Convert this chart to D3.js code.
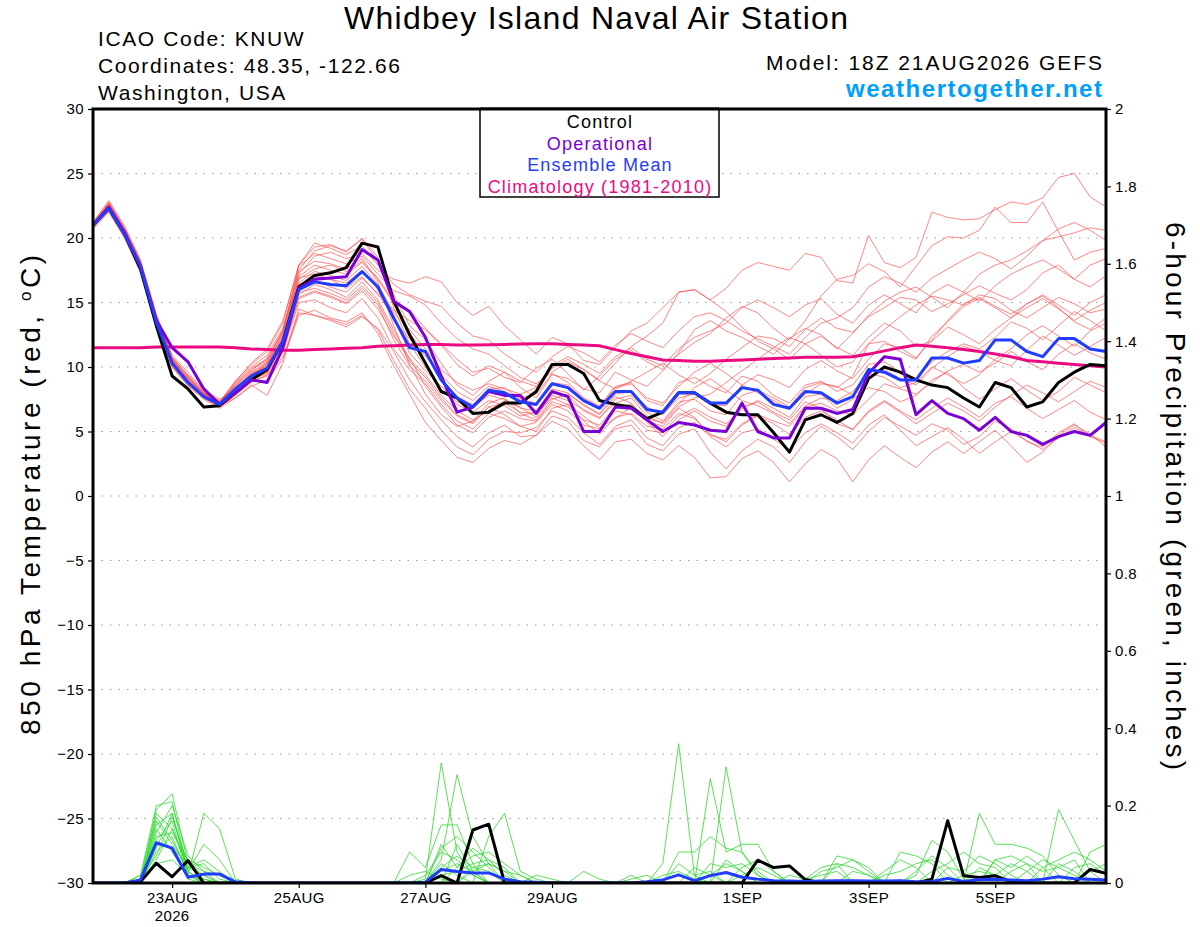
<!DOCTYPE html>
<html>
<head>
<meta charset="utf-8">
<script src="https://cdn.jsdelivr.net/npm/d3@7"></script>
<style>
  body { margin: 0; background: #fff; }
  text { font-family: "Liberation Sans", Arial, Helvetica, sans-serif; }
</style>
</head>
<body>
<script>
// 6-hourly GEFS forecast, 18Z 21AUG2026 run, 65 steps
const runStart = new Date(Date.UTC(2026, 7, 21, 18));
const runEnd = new Date(Date.UTC(2026, 8, 6, 18));
const times = d3.utcHour.every(6).range(runStart, d3.utcHour.offset(runEnd, 1));

const tickDates = [
  new Date(Date.UTC(2026, 7, 23)), new Date(Date.UTC(2026, 7, 25)),
  new Date(Date.UTC(2026, 7, 27)), new Date(Date.UTC(2026, 7, 29)),
  new Date(Date.UTC(2026, 8, 1)), new Date(Date.UTC(2026, 8, 3)),
  new Date(Date.UTC(2026, 8, 5))
];
const tickLabels = ["23AUG", "25AUG", "27AUG", "29AUG", "1SEP", "3SEP", "5SEP"];

// 850 hPa temperature (C)
const control = [
  21.0, 22.3, 20.3, 17.6, 13.2, 9.3, 8.3, 6.9, 7.0, 8.0, 9.0, 9.8, 12.0,
  16.2, 17.1, 17.3, 17.7, 19.6, 19.3, 15.1, 12.5, 10.3, 8.1, 7.6,
  6.4, 6.5, 7.2, 7.2, 8.1, 10.2, 10.2, 9.5, 7.4, 7.1, 6.9, 6.0, 6.5, 8.0, 8.0, 7.2, 6.5, 6.3, 6.3,
  4.9, 3.4, 5.9, 6.3, 5.7, 6.4, 9.1, 10.0, 9.6, 9.0, 8.6, 8.4, 7.6, 6.9, 8.8, 8.4, 6.9, 7.3, 8.8, 9.6, 10.2, 10.1
];
const operational = [
  21.0, 22.4, 20.4, 17.8, 13.6, 11.5, 10.4, 8.3, 7.1, 8.0, 9.0, 8.8, 11.5,
  16.1, 16.8, 16.9, 17.0, 19.1, 18.3, 15.1, 14.3, 12.3, 9.3, 6.5,
  6.9, 8.1, 7.8, 7.8, 6.4, 8.1, 7.7, 5.0, 5.0, 6.9, 6.8, 5.9, 5.0, 5.7, 5.5, 5.1, 5.0, 7.2, 5.0,
  4.5, 4.5, 6.8, 6.8, 6.4, 6.7, 9.5, 10.8, 10.6, 6.3, 7.4, 6.4, 6.0, 5.1, 6.1, 5.0, 4.7, 4.0, 4.6, 5.0, 4.7, 5.7
];
const ensembleMean = [
  21.0, 22.3, 20.3, 17.8, 13.5, 10.3, 8.8, 7.7, 7.1, 8.3, 9.3, 9.9, 12.0,
  16.0, 16.6, 16.4, 16.3, 17.4, 16.2, 13.8, 11.5, 11.2, 9.0, 7.6,
  6.9, 8.2, 8.0, 7.3, 7.1, 8.7, 8.4, 7.4, 6.8, 8.1, 8.1, 6.7, 6.5, 8.0, 8.0, 7.2, 7.2, 8.4, 8.2,
  7.1, 6.8, 8.1, 8.0, 7.2, 7.7, 9.8, 9.6, 9.0, 9.0, 10.7, 10.7, 10.3, 10.5, 12.1, 12.1, 11.2, 10.8, 12.2, 12.2, 11.4, 11.2
];
const climatology = [
  11.5, 11.5, 11.5, 11.5, 11.55, 11.55, 11.55, 11.55, 11.55, 11.5, 11.4, 11.35, 11.3,
  11.3, 11.35, 11.4, 11.45, 11.5, 11.6, 11.65, 11.7, 11.75, 11.75, 11.7,
  11.7, 11.72, 11.75, 11.78, 11.8, 11.8, 11.75, 11.7, 11.65, 11.35, 11.05, 10.8, 10.55, 10.5, 10.45, 10.45, 10.5, 10.55, 10.6,
  10.65, 10.7, 10.75, 10.75, 10.75, 10.8, 11.0, 11.25, 11.5, 11.7, 11.6, 11.5, 11.35, 11.2, 11.0, 10.8, 10.5, 10.4, 10.3, 10.2, 10.1, 10.0
];

const tempMembers = [
  [21.2, 22.8, 20.8, 18.2, 14.0, 10.8, 9.3, 7.9, 7.2, 8.6, 9.8, 10.5, 12.8,
   17.2, 18.6, 18.9, 18.4, 18.8, 17.5, 16.8, 16.5, 17.0, 16.6, 15.0,
   14.0, 14.7, 13.2, 12.1, 11.0, 12.3, 11.8, 10.5, 10.2, 11.5, 12.8, 13.4, 14.6, 15.8, 16.0, 15.2, 16.1, 17.5, 18.1,
   17.8, 17.5, 18.8, 18.5, 16.7, 16.5, 20.2, 18.1, 17.7, 18.5, 22.0, 21.6, 21.4, 21.5, 22.2, 22.8, 22.6, 23.1, 24.7, 25.0, 23.2, 22.4],
  [20.9, 22.5, 20.6, 18.0, 13.8, 10.6, 9.0, 7.6, 7.0, 8.2, 9.4, 10.2, 12.4,
   16.8, 17.6, 17.9, 17.4, 18.2, 16.9, 15.1, 14.4, 13.0, 11.8, 10.6,
   9.6, 9.9, 9.2, 8.8, 9.9, 10.6, 9.5, 8.2, 9.3, 10.6, 11.3, 10.4, 9.8, 11.0, 11.9, 12.6, 13.8, 14.7, 14.2,
   13.0, 12.1, 13.6, 15.5, 16.8, 17.1, 18.0, 17.4, 16.2, 17.8, 19.4, 20.1, 20.0, 20.6, 22.4, 21.2, 21.2, 22.8, 20.5, 18.3, 18.9, 19.2],
  [21.1, 22.6, 20.5, 17.7, 13.6, 10.5, 8.8, 7.8, 7.2, 8.8, 10.0, 10.9, 13.0,
   17.5, 19.0, 19.4, 19.0, 19.9, 18.2, 15.6, 13.2, 12.1, 10.3, 8.6,
   7.8, 8.9, 9.6, 8.4, 7.6, 9.4, 9.1, 8.3, 8.0, 9.6, 9.0, 8.5, 9.7, 11.1, 12.9, 13.6, 12.8, 12.3, 11.6,
   11.0, 12.2, 13.0, 12.5, 11.4, 12.6, 14.0, 15.1, 15.8, 16.2, 15.4, 14.6, 15.8, 17.2, 17.9, 18.3, 19.0, 19.8, 20.1, 20.4, 20.8, 20.6],
  [20.8, 22.2, 20.2, 17.6, 13.3, 10.2, 9.1, 8.0, 7.4, 8.5, 9.6, 10.4, 12.6,
   17.8, 18.8, 18.4, 18.0, 18.6, 17.2, 15.9, 15.5, 14.8, 13.4, 12.2,
   11.4, 11.0, 10.1, 9.2, 8.7, 9.6, 10.4, 9.8, 8.9, 8.3, 8.9, 9.6, 10.3, 9.4, 8.7, 9.5, 10.6, 11.5, 12.4,
   12.2, 11.6, 12.9, 13.8, 13.0, 12.7, 13.9, 14.6, 15.4, 15.2, 14.3, 14.9, 15.6, 16.3, 15.7, 15.2, 16.0, 17.3, 17.9, 16.8, 16.2, 17.1],
  [21.0, 22.4, 20.4, 17.9, 13.7, 10.4, 9.2, 7.9, 7.3, 8.0, 9.1, 9.7, 11.6,
   15.6, 16.4, 16.0, 15.4, 16.6, 15.2, 12.9, 10.6, 9.4, 7.8, 6.6,
   5.9, 6.6, 7.4, 6.9, 6.1, 7.8, 7.4, 6.7, 6.1, 7.2, 7.6, 6.2, 5.6, 6.9, 7.6, 7.9, 8.8, 9.7, 10.6,
   11.5, 12.3, 11.8, 10.9, 10.0, 10.4, 11.8, 12.9, 13.9, 14.8, 15.5, 15.2, 14.8, 15.6, 15.3, 14.4, 13.8, 14.6, 15.4, 14.9, 14.2, 14.5],
  [20.9, 22.1, 20.1, 17.5, 13.2, 10.1, 8.6, 7.6, 6.9, 7.8, 8.8, 9.4, 11.2,
   15.0, 15.2, 14.6, 14.2, 15.3, 13.8, 11.4, 9.8, 8.7, 7.1, 5.8,
   5.2, 6.4, 6.0, 5.4, 5.7, 7.1, 6.6, 5.5, 5.2, 6.6, 6.3, 5.1, 4.9, 6.2, 6.8, 6.1, 5.6, 6.7, 7.4,
   6.8, 6.1, 7.7, 7.9, 6.8, 7.5, 8.4, 8.1, 7.3, 7.8, 9.0, 9.6, 8.4, 7.5, 8.3, 9.1, 8.2, 7.4, 8.1, 9.2, 8.6, 8.0],
  [21.1, 22.7, 20.7, 18.1, 13.9, 10.7, 9.4, 8.2, 7.5, 8.1, 8.9, 9.3, 10.8,
   14.2, 14.0, 13.6, 13.1, 13.9, 13.0, 11.2, 9.0, 7.3, 5.9, 4.6,
   3.8, 4.9, 5.5, 4.6, 4.7, 6.2, 5.8, 4.3, 3.8, 5.2, 5.5, 4.0, 3.5, 4.8, 5.2, 3.4, 2.1, 3.5, 4.4,
   3.8, 2.6, 4.2, 5.4, 4.6, 3.6, 5.0, 6.1, 5.4, 4.7, 5.6, 5.1, 4.0, 4.6, 5.8, 5.2, 4.2, 3.8, 4.9, 5.6, 4.6, 4.1],
  [20.7, 22.0, 20.0, 17.4, 13.1, 10.0, 8.7, 7.7, 7.0, 7.6, 8.5, 9.0, 10.6,
   14.0, 14.4, 13.8, 13.5, 14.2, 12.6, 10.1, 7.9, 5.7, 4.3, 3.0,
   2.6, 3.7, 4.3, 4.0, 4.7, 5.8, 5.2, 3.9, 2.8, 4.2, 4.4, 3.3, 2.8, 3.9, 3.0, 1.4, 1.5, 2.9, 3.5,
   2.6, 1.1, 2.5, 3.6, 2.9, 1.1, 2.8, 3.9, 3.0, 2.2, 3.4, 4.2, 3.3, 4.2, 5.1, 3.9, 2.6, 3.4, 4.7, 5.5, 4.8, 3.8],
  [21.0, 22.5, 20.3, 17.8, 13.5, 10.4, 8.9, 7.7, 7.1, 8.4, 9.5, 10.0, 12.1,
   16.2, 17.0, 16.8, 16.5, 17.5, 16.0, 13.6, 12.2, 10.8, 9.4, 8.1,
   7.4, 8.5, 8.1, 7.6, 7.9, 9.5, 8.8, 7.6, 7.0, 8.5, 8.8, 7.4, 7.0, 8.8, 9.2, 8.5, 8.0, 9.3, 8.9,
   7.8, 7.2, 8.6, 8.9, 8.1, 8.6, 10.2, 10.4, 9.6, 9.1, 10.4, 11.2, 11.8, 11.4, 12.3, 13.5, 13.0, 12.1, 13.2, 14.3, 13.6, 12.8],
  [21.2, 22.9, 20.9, 18.3, 14.1, 10.9, 9.6, 8.1, 7.3, 8.9, 10.2, 11.2, 13.4,
   17.9, 19.3, 19.5, 18.9, 20.0, 18.5, 14.6, 11.8, 10.0, 8.2, 7.1,
   6.5, 7.4, 7.0, 6.2, 6.5, 8.0, 7.8, 6.6, 6.0, 7.5, 7.8, 6.5, 5.8, 7.3, 7.5, 6.6, 6.3, 7.8, 8.2,
   7.6, 6.9, 8.4, 8.8, 8.4, 9.3, 11.8, 12.0, 11.2, 10.6, 12.4, 13.5, 14.7, 15.3, 14.6, 13.8, 14.9, 15.6, 14.8, 14.0, 15.0, 15.6],
  [20.8, 22.3, 20.2, 17.6, 13.4, 10.3, 8.9, 7.8, 7.2, 8.0, 9.2, 9.6, 11.3,
   15.3, 15.8, 15.4, 14.9, 15.9, 14.5, 12.4, 10.7, 8.5, 6.9, 5.5,
   4.9, 6.1, 6.6, 6.0, 5.8, 7.3, 6.9, 5.9, 5.5, 6.9, 7.1, 5.8, 5.4, 6.8, 6.1, 4.7, 4.4, 5.6, 6.3,
   5.8, 5.4, 6.9, 7.2, 6.6, 6.3, 7.5, 8.7, 8.3, 7.9, 8.8, 9.7, 10.2, 9.6, 10.3, 11.2, 10.4, 9.8, 11.0, 11.8, 11.1, 10.6],
  [21.1, 22.4, 20.5, 18.0, 13.7, 10.6, 9.1, 7.9, 7.1, 8.7, 9.9, 10.6, 12.9,
   17.4, 18.2, 18.0, 17.6, 18.4, 16.6, 13.2, 10.2, 7.9, 6.3, 5.4,
   5.8, 7.2, 7.6, 6.4, 5.9, 7.5, 7.9, 7.1, 6.3, 7.7, 7.2, 6.0, 5.7, 7.1, 8.4, 9.1, 8.2, 7.4, 7.0,
   6.4, 5.6, 7.0, 7.6, 7.4, 8.1, 9.5, 9.2, 8.4, 8.8, 10.0, 9.4, 8.7, 9.4, 10.6, 11.4, 12.5, 13.2, 12.4, 11.6, 12.8, 13.4],
  [20.9, 22.6, 20.6, 17.9, 13.8, 10.5, 9.0, 7.8, 7.0, 8.3, 9.4, 10.1, 12.2,
   16.5, 17.4, 17.1, 16.7, 17.8, 16.4, 14.2, 12.9, 11.4, 9.8, 8.8,
   8.2, 8.7, 8.3, 7.9, 8.4, 9.9, 10.6, 9.8, 9.0, 10.3, 11.6, 12.4, 13.4, 15.8, 16.0, 15.2, 14.3, 13.1, 12.0,
   11.4, 10.6, 11.8, 12.4, 11.5, 10.9, 12.3, 13.4, 12.8, 11.6, 12.0, 13.1, 12.5, 11.8, 12.9, 13.8, 14.6, 15.3, 14.5, 13.6, 14.4, 15.0],
  [21.0, 22.2, 20.3, 17.7, 13.4, 10.2, 8.7, 7.6, 7.0, 7.9, 9.0, 9.5, 11.4,
   15.4, 15.9, 15.5, 15.0, 16.1, 14.8, 12.1, 10.1, 8.9, 7.4, 6.2,
   5.6, 6.9, 6.3, 5.4, 5.0, 6.8, 7.1, 6.2, 5.3, 6.0, 6.9, 5.7, 4.6, 5.9, 6.6, 5.8, 5.4, 6.9, 7.3,
   6.5, 5.9, 7.3, 6.8, 5.6, 5.2, 6.6, 7.4, 6.6, 5.9, 6.8, 7.6, 6.9, 6.1, 7.2, 7.7, 6.8, 6.0, 6.7, 7.4, 6.5, 5.9],
  [21.1, 22.5, 20.4, 17.8, 13.6, 10.5, 9.0, 7.9, 7.3, 8.4, 9.3, 10.3, 12.5,
   16.9, 17.2, 16.8, 16.1, 17.0, 15.6, 13.9, 11.1, 9.7, 8.5, 7.3,
   6.9, 7.8, 7.5, 6.8, 6.6, 8.3, 8.0, 7.0, 6.4, 7.9, 8.1, 6.9, 6.3, 7.6, 7.9, 7.1, 7.0, 8.6, 9.4,
   9.0, 8.4, 9.8, 10.5, 9.7, 9.1, 10.6, 11.8, 11.5, 10.7, 12.1, 13.6, 14.9, 15.4, 14.7, 14.1, 14.9, 15.5, 14.6, 13.5, 12.9, 13.8],
  [20.8, 22.1, 20.0, 17.3, 13.1, 10.0, 8.5, 7.5, 6.8, 7.6, 8.6, 7.8, 10.3,
   14.5, 14.0, 13.7, 13.3, 14.0, 12.9, 10.5, 8.3, 6.8, 5.1, 3.8,
   3.2, 4.4, 5.0, 4.9, 5.3, 6.6, 6.1, 4.9, 4.0, 5.4, 5.9, 4.5, 3.9, 5.3, 5.7, 4.6, 3.8, 4.9, 5.2,
   4.4, 3.6, 4.9, 5.6, 4.9, 4.1, 5.5, 6.3, 5.1, 3.9, 4.6, 5.3, 4.4, 3.3, 4.2, 5.0, 4.3, 3.6, 4.5, 5.3, 4.7, 4.2],
  [21.0, 22.4, 20.5, 17.8, 13.6, 10.3, 8.9, 7.8, 7.2, 8.2, 9.5, 10.3, 12.2,
   16.4, 16.8, 16.2, 15.8, 16.9, 15.7, 14.4, 13.6, 12.9, 11.7, 10.2,
   9.3, 10.1, 9.6, 8.9, 8.5, 10.1, 10.8, 10.2, 9.5, 10.8, 11.5, 10.6, 10.1, 11.4, 12.3, 12.8, 13.4, 14.6, 15.2,
   14.6, 13.9, 14.8, 15.3, 14.1, 13.4, 14.8, 15.6, 14.9, 14.2, 15.7, 16.4, 15.8, 15.1, 16.3, 17.2, 17.8, 18.3, 17.6, 16.8, 17.9, 18.4],
  [21.0, 22.3, 20.2, 17.6, 13.3, 10.2, 8.8, 7.7, 7.1, 8.1, 9.0, 9.6, 11.7,
   15.8, 16.1, 15.7, 15.2, 16.3, 15.0, 12.6, 10.4, 9.2, 7.6, 6.3,
   5.7, 6.9, 7.2, 6.5, 6.4, 7.6, 7.1, 5.8, 4.8, 6.1, 6.4, 5.4, 5.2, 6.4, 6.0, 4.8, 4.2, 5.5, 6.2,
   5.6, 4.8, 6.1, 6.6, 5.9, 5.1, 6.5, 7.3, 6.5, 5.6, 6.4, 7.2, 6.6, 5.8, 6.9, 7.8, 8.6, 8.0, 7.3, 8.1, 8.9, 8.4],
  [21.1, 22.6, 20.6, 18.0, 13.8, 10.6, 9.2, 8.0, 7.2, 8.6, 9.7, 10.7, 12.7,
   17.0, 17.9, 17.5, 17.2, 18.1, 16.8, 14.9, 12.6, 11.0, 9.1, 7.7,
   7.1, 8.3, 8.4, 7.5, 7.2, 8.8, 8.6, 7.5, 6.9, 8.4, 8.7, 7.6, 7.2, 8.5, 9.6, 10.3, 9.5, 8.6, 8.0,
   7.4, 6.7, 7.9, 8.7, 8.5, 7.8, 9.2, 9.8, 9.1, 8.6, 9.9, 10.8, 11.6, 11.2, 10.5, 10.1, 11.3, 12.4, 11.7, 10.9, 11.6, 12.3],
  [20.9, 22.7, 20.7, 18.2, 14.0, 10.7, 9.3, 8.0, 7.3, 8.9, 10.3, 11.4, 13.6,
   17.9, 19.6, 19.2, 18.7, 19.4, 17.9, 16.4, 15.6, 15.1, 14.7, 13.4,
   12.4, 12.1, 11.0, 10.2, 9.6, 10.8, 11.6, 11.1, 10.4, 11.7, 12.6, 12.0, 11.5, 12.8, 13.9, 14.2, 13.6, 12.8, 12.2,
   11.6, 11.0, 12.3, 13.4, 13.8, 14.6, 16.2, 17.0, 16.5, 15.8, 16.9, 17.6, 18.3, 18.9, 18.4, 17.6, 18.6, 19.8, 20.7, 21.2, 20.6, 19.8]
];

// 6-hour precipitation (inches)
const controlPrecip = [
  0, 0, 0, .003, .051, .016, .058, 0, 0, 0, 0, 0, 0,
  0, 0, 0, 0, 0, 0, 0, 0, 0, .019, 0, .137, .152,
  0, 0, 0, 0, 0, 0, 0, 0, 0, 0, 0, 0, 0,
  0, 0, 0, .059, .04, .044, .009, 0, 0, 0, 0, 0, 0,
  0, .01, .161, .019, .014, .019, .003, 0, 0, 0, 0, .035, .025
];
const meanPrecip = [
  0, 0, 0, .008, .104, .09, .015, .023, .023, .003, 0, 0, 0,
  0, 0, 0, 0, 0, 0, 0, 0, .002, .035, .03, .026, .026,
  .01, .003, .002, 0, 0, 0, 0, 0, 0, .003, .008, .021, .006,
  .019, .027, .015, .01, .006, .005, .004, .005, .006, .006, .005, .005, .006,
  .003, .004, .012, .004, .009, .01, .008, .006, .01, .016, .011, .01, .008
];
const precipMembers = [
  [0,0,0,.01,.19,.23,.05,.01,0,0,0,0,0, 0,0,0,0,0,0,0,0,.01,.31,.08,.02,0, 0,0,0,0,0,0,0,0,0,0,.05,.36,.02, 0,0,0,0,0,0,0,0,0,0,0,0,0, .02,.11,.08,.01,0,0,0,0,0,.19,.11,.03,0],
  [0,0,0,.02,.2,.21,.03,0,0,0,0,0,0, 0,0,0,0,0,0,0,0,0,.06,.28,.12,.05, 0,0,0,0,0,0,0,0,0,0,0,0,0, .27,.08,.1,.1,.03,0,0,0,0,0,0,0,0, 0,0,0,0,.18,.1,.1,.09,.07,.02,0,0,0],
  [0,0,0,.01,.15,.18,.02,.18,.14,.01,0,0,0, 0,0,0,0,0,0,0,0,0,0,0,0,.12, .18,.03,.01,0,0,0,0,0,0,0,0,0,0, 0,.3,.08,.02,0,0,0,0,.07,.06,.04,0,0, 0,0,0,0,0,0,0,0,0,0,0,.08,.1],
  [0,0,0,0,.12,.13,.06,.04,.02,0,0,0,0, 0,0,0,0,0,0,0,.08,.04,.15,.15,.05,0, 0,0,0,0,0,0,0,0,0,0,0,.08,.08, .12,.09,.08,.03,0,0,0,0,0,0,0,0,.08, .07,.05,0,0,0,.06,.07,.05,0,0,0,0,0],
  [0,0,0,0,.16,.1,.04,.02,0,0,0,0,0, 0,0,0,0,0,0,0,0,0,.1,.04,.07,.08, .05,.02,0,0,0,.03,.01,0,.02,0,0,0,0, 0,0,0,0,0,.02,.01,.04,.05,0,0,0,0, 0,0,0,0,0,0,0,0,.04,.06,.08,.06,.03],
  [0,0,0,0,.09,.18,.03,.1,.06,0,0,0,0, 0,0,0,0,0,0,0,0,0,0,.04,.09,.06, .02,0,0,0,0,0,0,0,0,0,0,0,0, .05,.04,.05,.02,0,0,0,0,0,0,0,.03,.06, .04,0,0,0,.04,.02,.05,.03,0,0,0,0,0],
  [0,0,0,0,.14,.08,.02,0,0,0,0,0,0, 0,0,0,0,0,0,0,0,0,.02,.03,.05,.06, .04,0,.02,.01,0,0,0,0,0,0,0,0,0, 0,0,.02,.04,.02,0,0,0,.05,.04,.02,0,0, 0,0,0,0,0,0,0,0,0,0,.04,.05,.02],
  [0,0,0,.02,.11,.16,.01,0,0,0,0,0,0, 0,0,0,0,0,0,0,0,0,.03,.05,.03,0, 0,0,0,0,0,0,0,0,0,0,.02,.03,.01, 0,0,0,0,0,0,0,0,0,0,0,0,0, 0,.03,.05,.08,.05,.04,0,0,0,.05,.03,0,0],
  [0,0,0,0,.08,.12,.02,.01,0,0,0,0,0, 0,0,0,0,0,0,0,0,.02,.08,.06,.02,0, 0,0,0,0,0,0,0,0,0,0,0,0,.04, .02,0,0,0,0,0,0,.03,.04,.06,.03,0,0, 0,0,0,0,0,0,0,.03,.06,.04,.02,0,0],
  [0,0,0,0,.18,.14,.04,.05,.01,0,0,0,0, 0,0,0,0,0,0,0,0,0,.04,.07,.04,.03, 0,0,0,0,0,0,0,0,0,0,0,0,0, 0,.06,.03,0,0,0,0,0,0,0,0,0,0, 0,0,.04,.03,.07,.05,.02,0,0,0,0,0,0],
  [0,0,0,.01,.07,.17,.05,.02,0,0,0,0,0, 0,0,0,0,0,0,0,0,0,0,0,.03,.05, .03,.02,0,0,0,0,0,0,0,0,0,0,0, 0,0,0,0,0,0,.01,.02,.03,0,0,0,0, 0,0,0,0,0,0,0,0,0,0,0,.03,.05],
  [0,0,0,0,.13,.2,.07,.03,0,0,0,0,0, 0,0,0,0,0,0,0,0,0,.05,.02,0,0, 0,0,0,0,0,0,0,0,0,0,0,.05,.02, .03,0,0,0,0,0,0,0,0,0,0,.02,.03, .05,.06,.02,0,0,0,0,0,0,0,0,0,0],
  [0,0,0,0,.1,.09,.05,.03,.02,0,0,0,0, 0,0,0,0,0,0,0,0,0,.09,.12,.08,.04, 0,0,0,0,0,0,0,0,0,0,0,0,0, 0,0,.04,.06,.03,0,0,0,0,0,0,0,0, 0,0,0,0,0,.06,.04,.07,.04,0,0,0,0],
  [0,0,0,0,.05,.06,.02,0,0,0,0,0,0, 0,0,0,0,0,0,0,.02,.03,.01,0,0,0, 0,0,0,0,0,0,0,0,.01,.02,0,0,0, 0,0,0,0,0,0,0,0,0,.03,.02,0,0, 0,0,0,.02,.03,.02,0,0,0,0,0,0,0],
  [0,0,0,0,.17,.11,.03,0,0,0,0,0,0, 0,0,0,0,0,0,0,0,0,0,.1,.03,0, 0,0,0,0,0,0,0,0,0,0,0,0,0, .02,.05,.03,0,0,0,0,0,0,0,0,0,0, .03,.07,.04,0,0,0,0,0,0,0,0,0,0],
  [0,0,0,0,.06,.14,.04,.06,.03,0,0,0,0, 0,0,0,0,0,0,0,0,0,.02,0,.04,.05, .03,0,0,0,0,0,0,0,0,0,0,0,0, 0,0,0,0,0,0,0,0,0,0,0,0,0, 0,0,0,0,0,0,.03,.05,.03,.04,.06,0,0]
];

const tempTicks = d3.range(-30, 31, 5);
const precipTicks = [0, 0.2, 0.4, 0.6, 0.8, 1, 1.2, 1.4, 1.6, 1.8, 2];

const margin = {top: 109, right: 94, bottom: 44, left: 93},
  width = 1200 - margin.left - margin.right,
  height = 927 - margin.top - margin.bottom;

const root = d3.select("body")
  .append("svg")
  .attr("width", 1200)
  .attr("height", 927);

const svg = root.append("g")
  .attr("transform", `translate(${margin.left},${margin.top})`);

const x = d3.scaleUtc()
  .domain([runStart, runEnd])
  .range([0, width]);
const yT = d3.scaleLinear()
  .domain([-30, 30])
  .range([height, 0]);
const yP = d3.scaleLinear()
  .domain([0, 2])
  .range([height, 0]);

svg.append("clipPath")
  .attr("id", "plot-clip")
  .append("rect")
  .attr("width", width)
  .attr("height", height);

// dotted grid
svg.append("g")
  .selectAll("line")
  .data(tempTicks.filter(d => d > -30 && d < 30))
  .join("line")
  .attr("x1", 0)
  .attr("x2", width)
  .attr("y1", d => yT(d))
  .attr("y2", d => yT(d))
  .attr("stroke", "#9a9a9a")
  .attr("stroke-width", 1.2)
  .attr("stroke-dasharray", "1.5,7");

const plot = svg.append("g").attr("clip-path", "url(#plot-clip)");

const tempLine = d3.line()
  .x((d, i) => x(times[i]))
  .y(d => yT(d));
const precipLine = d3.line()
  .x((d, i) => x(times[i]))
  .y(d => yP(d));

// ensemble members
plot.selectAll(".tmember")
  .data(tempMembers)
  .join("path")
  .attr("fill", "none")
  .attr("stroke", "#ff4d4d")
  .attr("stroke-opacity", 0.85)
  .attr("stroke-width", 0.8)
  .attr("d", tempLine);

plot.selectAll(".pmember")
  .data(precipMembers)
  .join("path")
  .attr("fill", "none")
  .attr("stroke", "#2fd82f")
  .attr("stroke-width", 0.8)
  .attr("d", precipLine);

// climatology + deterministic lines
plot.append("path")
  .datum(climatology)
  .attr("fill", "none")
  .attr("stroke", "#ec0a83")
  .attr("stroke-width", 3)
  .attr("d", tempLine);

const heavy = [
  {values: control, line: tempLine, color: "#000000"},
  {values: controlPrecip, line: precipLine, color: "#000000"},
  {values: operational, line: tempLine, color: "#7a00d6"},
  {values: ensembleMean, line: tempLine, color: "#1f3cff"},
  {values: meanPrecip, line: precipLine, color: "#1f3cff"}
];
heavy.forEach(s => {
  plot.append("path")
    .datum(s.values)
    .attr("fill", "none")
    .attr("stroke", s.color)
    .attr("stroke-width", 3)
    .attr("stroke-linejoin", "round")
    .attr("d", s.line);
});

// axes
const styleAxis = g => {
  g.select(".domain").remove();
  g.selectAll(".tick line").attr("stroke", "#000").attr("stroke-width", 1.2);
  g.selectAll(".tick text")
    .attr("fill", "#000")
    .style("font-family", "'Liberation Sans', Arial, sans-serif")
    .style("font-size", "15px")
    .style("letter-spacing", "0.4px");
};

svg.append("g")
  .call(d3.axisLeft(yT).tickValues(tempTicks).tickSize(5).tickPadding(4))
  .call(styleAxis);

svg.append("g")
  .attr("transform", `translate(${width},0)`)
  .call(d3.axisRight(yP).tickValues(precipTicks).tickSize(5).tickPadding(4)
    .tickFormat(d => String(+d.toFixed(1))))
  .call(styleAxis);

svg.append("g")
  .attr("transform", `translate(0,${height})`)
  .call(d3.axisBottom(x).tickValues(tickDates).tickSize(5).tickPadding(4)
    .tickFormat((d, i) => tickLabels[i]))
  .call(styleAxis);

svg.append("text")
  .attr("x", x(tickDates[0]))
  .attr("y", height + 38)
  .attr("text-anchor", "middle")
  .style("font-size", "15px")
  .style("letter-spacing", "0.4px")
  .text("2026");

// frame
svg.append("rect")
  .attr("width", width)
  .attr("height", height)
  .attr("fill", "none")
  .attr("stroke", "#000")
  .attr("stroke-width", 3);

// legend
const legendItems = [
  {label: "Control", color: "#000000"},
  {label: "Operational", color: "#7a00d6"},
  {label: "Ensemble Mean", color: "#1f3cff"},
  {label: "Climatology (1981-2010)", color: "#ec0a83"}
];
root.append("rect")
  .attr("x", 480)
  .attr("y", 109)
  .attr("width", 239)
  .attr("height", 88)
  .attr("fill", "#fff")
  .attr("stroke", "#000")
  .attr("stroke-width", 1.5);
root.selectAll(".legend")
  .data(legendItems)
  .join("text")
  .attr("x", 600)
  .attr("y", (d, i) => 128 + i * 21.7)
  .attr("text-anchor", "middle")
  .attr("fill", d => d.color)
  .style("font-size", "18px")
  .style("letter-spacing", "1.2px")
  .text(d => d.label);
root.append("line")
  .attr("x1", 480).attr("x2", 719)
  .attr("y1", 109).attr("y2", 109)
  .attr("stroke", "#000").attr("stroke-width", 3);

// titles
root.append("text")
  .attr("x", 596)
  .attr("y", 29)
  .attr("text-anchor", "middle")
  .attr("textLength", 504)
  .attr("lengthAdjust", "spacing")
  .style("font-size", "32px")
  .text("Whidbey Island Naval Air Station");

const infoLines = ["ICAO Code: KNUW", "Coordinates: 48.35, -122.66", "Washington, USA"];
root.selectAll(".info")
  .data(infoLines)
  .join("text")
  .attr("x", 98)
  .attr("y", (d, i) => 46 + i * 27)
  .style("font-size", "21px")
  .style("letter-spacing", "1.6px")
  .text(d => d);

root.append("text")
  .attr("x", 1102)
  .attr("y", 70)
  .attr("text-anchor", "end")
  .attr("textLength", 336)
  .attr("lengthAdjust", "spacing")
  .style("font-size", "21px")
  .text("Model: 18Z 21AUG2026 GEFS");

root.append("text")
  .attr("x", 1102)
  .attr("y", 97)
  .attr("text-anchor", "end")
  .attr("textLength", 256)
  .attr("lengthAdjust", "spacing")
  .attr("fill", "#009ffb")
  .style("font-size", "24px")
  .style("font-weight", "bold")
  .text("weathertogether.net");

const leftLabel = root.append("text")
  .attr("transform", "translate(40,495) rotate(-90)")
  .attr("text-anchor", "middle")
  .attr("textLength", 480)
  .attr("lengthAdjust", "spacing")
  .style("font-size", "28px");
leftLabel.append("tspan").text("850 hPa Temperature (red, ");
leftLabel.append("tspan").attr("baseline-shift", "super").style("font-size", "17px").text("o");
leftLabel.append("tspan").text("C)");

root.append("text")
  .attr("transform", "translate(1166,496) rotate(90)")
  .attr("text-anchor", "middle")
  .attr("textLength", 548)
  .attr("lengthAdjust", "spacing")
  .style("font-size", "28px")
  .text("6-hour Precipitation (green, inches)");
</script>
</body>
</html>
